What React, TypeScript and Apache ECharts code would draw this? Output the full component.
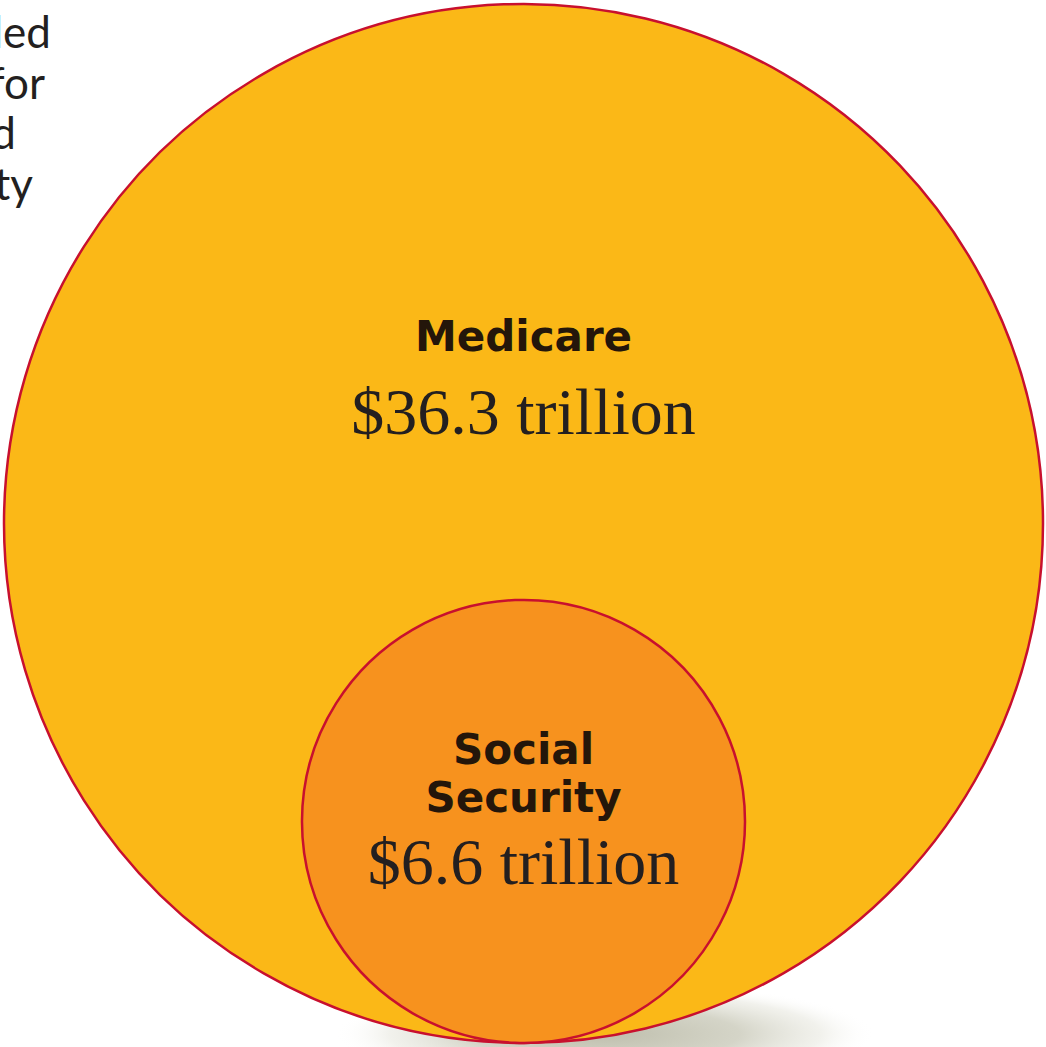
import React, { useEffect, useRef } from "react";
import * as echarts from "echarts";

const categories = ["Medicare", "Social Security"];
const values = [36.3, 6.6]; // trillions of dollars
const valueLabels = ["$36.3 trillion", "$6.6 trillion"];
const nameLines = [["Medicare"], ["Social", "Security"]];
const fillColors = ["#FBB817", "#F7921E"];
const sideText = ["led", "for", "d", "ty"];
const sideTextRight = [51, 45, 16, 33];

const W = 1046;
const H = 1047;
const CX = 523.5;
const BASE_Y = 1043; // shared bottom of the nested circles
const PX_PER_SQRT = 519.5 / Math.sqrt(36.3);
// label offsets from each circle's centre (layout only)
const nameTop = [-187, -72];
const valueOffset = [-112, 40];

export default function App() {
  const ref = useRef<HTMLDivElement>(null);
  useEffect(() => {
    if (!ref.current) return;
    const chart = echarts.init(ref.current, null, { renderer: "svg" });
    const data = values.map((v, i) => {
      const r = Math.sqrt(v) * PX_PER_SQRT;
      return { value: [CX, BASE_Y - r, r, i], name: categories[i] };
    });
    const graphics: any[] = [
      {
        type: "ellipse",
        z: -1,
        shape: { cx: 605, cy: 1034, rx: 270, ry: 52 },
        style: {
          fill: {
            type: "radial",
            x: 0.5,
            y: 0.5,
            r: 0.5,
            colorStops: [
              { offset: 0, color: "rgba(190,190,172,1)" },
              { offset: 0.5, color: "rgba(205,205,190,0.85)" },
              { offset: 0.8, color: "rgba(228,228,218,0.5)" },
              { offset: 1, color: "rgba(255,255,255,0)" },
            ],
          },
        },
      },
    ];
    sideText.forEach((t, i) => {
      graphics.push({
        type: "text",
        z: 5,
        x: sideTextRight[i],
        y: 31 + i * 50.5,
        style: {
          text: t,
          fill: "#231f20",
          font: "400 44px Lato",
          align: "right",
          verticalAlign: "middle",
        },
      });
    });
    chart.setOption({
      animation: false,
      grid: { left: 0, right: 0, top: 0, bottom: 0 },
      xAxis: { type: "value", min: 0, max: W, show: false },
      yAxis: { type: "value", min: 0, max: H, inverse: true, show: false },
      graphic: graphics,
      series: [
        {
          type: "custom",
          coordinateSystem: "cartesian2d",
          z: 2,
          data,
          renderItem: (params: any, api: any) => {
            const cx = api.value(0);
            const cy = api.value(1);
            const r = api.value(2);
            const idx = api.value(3);
            const c = api.coord([cx, cy]);
            const rp = api.size([r, r])[0];
            const children: any[] = [
              {
                type: "circle",
                shape: { cx: c[0], cy: c[1], r: rp },
                style: { fill: fillColors[idx], stroke: "#C8102E", lineWidth: 2.5 },
              },
            ];
            const lines = nameLines[idx];
            const top = c[1] + nameTop[idx];
            lines.forEach((ln, j) => {
              children.push({
                type: "text",
                style: {
                  x: c[0],
                  y: top + j * 48,
                  text: ln,
                  fill: "#24160A",
                  font: "700 42px 'DejaVu Sans'",
                  align: "center",
                  verticalAlign: "middle",
                },
              });
            });
            children.push({
              type: "text",
              style: {
                x: c[0],
                y: c[1] + valueOffset[idx],
                text: valueLabels[idx],
                fill: "#231f20",
                font: "400 66px 'Liberation Serif'",
                align: "center",
                verticalAlign: "middle",
              },
            });
            return { type: "group", children };
          },
        },
      ],
    });
    return () => chart.dispose();
  }, []);
  return (
    <div
      ref={ref}
      style={{ position: "fixed", left: 0, top: 0, width: W, height: H, background: "#fff" }}
    />
  );
}
